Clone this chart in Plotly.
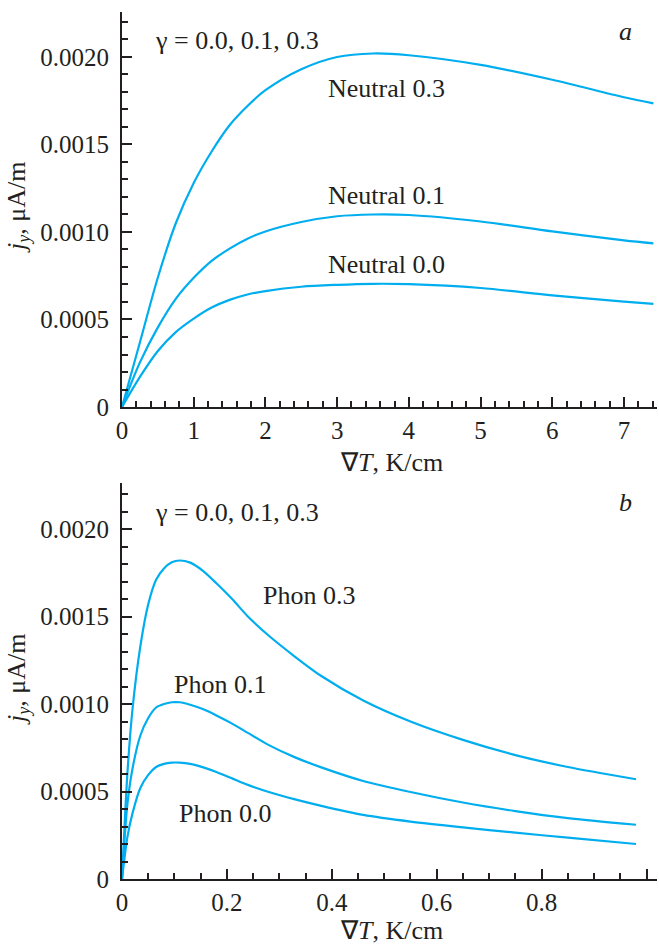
import plotly.graph_objects as go

# ---------------------------------------------------------------------------
# (a) neutral-atom contribution, x = grad T in K/cm, y = j_y in uA/m
# ---------------------------------------------------------------------------
neutral_x = [0, 0.25, 0.5, 0.75, 1.0, 1.25, 1.5, 1.75, 2.0, 2.5, 3.0, 3.5, 4.0, 5.0, 6.0, 7.0, 7.41]
neutral_03 = [0, 0.00037, 0.00074, 0.00105, 0.00128, 0.00146, 0.00161, 0.00172, 0.00181,
              0.00193, 0.002, 0.00202, 0.00201, 0.001955, 0.00187, 0.00177, 0.001735]
neutral_01 = [0, 0.000255, 0.000455, 0.000618, 0.000738, 0.000835, 0.000905, 0.000962, 0.001003,
              0.001057, 0.00109, 0.0011, 0.001097, 0.00106, 0.001003, 0.000952, 0.000935]
neutral_00 = [0, 0.000172, 0.00032, 0.000428, 0.000505, 0.000568, 0.000612, 0.000643, 0.000662,
              0.000687, 0.000698, 0.000704, 0.000702, 0.00068, 0.000638, 0.000602, 0.000589]

# (b) phonon contribution
phon_x = [0, 0.01, 0.02, 0.035, 0.05, 0.065, 0.08, 0.095, 0.11, 0.13, 0.155, 0.18, 0.21, 0.24,
          0.28, 0.33, 0.38, 0.46, 0.55, 0.65, 0.75, 0.85, 0.98]
phon_03 = [0, 0.00059, 0.00097, 0.00133, 0.00157, 0.00171, 0.001775, 0.00181, 0.00182, 0.001808,
           0.00176, 0.00169, 0.0016, 0.0015, 0.00139, 0.00127, 0.00116, 0.00102, 0.0009, 0.000795,
           0.000708, 0.00064, 0.00057]
phon_01 = [0, 0.00042, 0.00063, 0.00082, 0.00092, 0.00098, 0.001, 0.00101, 0.00101, 0.000996,
           0.00097, 0.000935, 0.000888, 0.000835, 0.000765, 0.000695, 0.000638, 0.00056, 0.000497,
           0.000437, 0.000388, 0.000348, 0.00031]
phon_00 = [0, 0.000235, 0.000375, 0.00052, 0.000595, 0.00064, 0.000658, 0.000665, 0.000665,
           0.000658, 0.000638, 0.000612, 0.000575, 0.000538, 0.000497, 0.000455, 0.000418,
           0.000366, 0.000328, 0.000295, 0.000265, 0.000236, 0.0002]

y_tickvals = [0, 0.0005, 0.0010, 0.0015, 0.0020]
y_ticktext = ['0', '0.0005', '0.0010', '0.0015', '0.0020']
xa_tickvals = [0, 1, 2, 3, 4, 5, 6, 7]
xb_tickvals = [0, 0.2, 0.4, 0.6, 0.8, 1.0]
xb_ticktext = ['0', '0.2', '0.4', '0.6', '0.8', '1.0']

labels_a = ['Neutral 0.3', 'Neutral 0.1', 'Neutral 0.0']
labels_b = ['Phon 0.3', 'Phon 0.1', 'Phon 0.0']

FONT = 'Liberation Serif'
INK = '#231f20'
CYAN = '#00aeef'

fig = go.Figure()

for ys in (neutral_03, neutral_01, neutral_00):
    fig.add_scatter(x=neutral_x, y=ys, mode='lines', xaxis='x', yaxis='y',
                    line=dict(color=CYAN, width=2.2, shape='spline', smoothing=0.9),
                    showlegend=False, hoverinfo='skip')
for ys in (phon_03, phon_01, phon_00):
    fig.add_scatter(x=phon_x, y=ys, mode='lines', xaxis='x2', yaxis='y2',
                    line=dict(color=CYAN, width=2.2, shape='spline', smoothing=0.7),
                    showlegend=False, hoverinfo='skip')

axis_common = dict(showline=True, linecolor=INK, linewidth=2, ticks='inside', ticklen=10,
                   tickwidth=1.5, tickcolor=INK, showgrid=False, zeroline=False,
                   tickfont=dict(family=FONT, size=25, color=INK), automargin=False)

x_dom = [122 / 659, 657 / 659]
fig.update_layout(
    width=659, height=945,
    paper_bgcolor='white', plot_bgcolor='white',
    margin=dict(l=0, r=0, t=0, b=0),
    font=dict(family=FONT, color=INK),
    xaxis=dict(axis_common, domain=x_dom, anchor='y', range=[0, 7.46],
               tickmode='array', tickvals=xa_tickvals,
               minor=dict(ticks='inside', dtick=0.2, tick0=0, ticklen=6, tickcolor=INK, tickwidth=1.5)),
    yaxis=dict(axis_common, domain=[1 - 407 / 945, 1 - 12 / 945], anchor='x', range=[0, 0.002257],
               tickmode='array', tickvals=y_tickvals, ticktext=y_ticktext, ticklabelstandoff=6,
               minor=dict(ticks='inside', dtick=0.0001, tick0=0, ticklen=6, tickcolor=INK, tickwidth=1.5)),
    xaxis2=dict(axis_common, domain=x_dom, anchor='y2', range=[0, 1.02],
                tickmode='array', tickvals=xb_tickvals, ticktext=xb_ticktext,
                minor=dict(ticks='inside', dtick=0.05, tick0=0, ticklen=6, tickcolor=INK, tickwidth=1.5)),
    yaxis2=dict(axis_common, domain=[1 - 879 / 945, 1 - 483 / 945], anchor='x2', range=[0, 0.002263],
                tickmode='array', tickvals=y_tickvals, ticktext=y_ticktext, ticklabelstandoff=6,
                minor=dict(ticks='inside', dtick=0.0001, tick0=0, ticklen=6, tickcolor=INK, tickwidth=1.5)),
)

def note(text, x, y, size=26, xanchor='left', angle=0):
    fig.add_annotation(text=text, x=x, y=y, xref='paper', yref='paper', showarrow=False,
                       xanchor=xanchor, yanchor='middle', textangle=angle,
                       font=dict(family=FONT, size=size, color=INK))

# panel (a)
note('γ = 0.0, 0.1, 0.3', 153 / 659, 1 - 40 / 945)
note('<i>a</i>', 625 / 659, 1 - 32 / 945, xanchor='center')
for lab, py in zip(labels_a, (88, 196, 264)):
    note(lab, 326 / 659, 1 - py / 945)
note('∇<i>T</i>, K/cm', 391 / 659, 1 - 462 / 945, xanchor='center')
note('<i>j<sub>y</sub></i>, μA/m', 18 / 659, 1 - 208 / 945, xanchor='center', angle=-90)

# panel (b)
note('γ = 0.0, 0.1, 0.3', 153 / 659, 1 - 512 / 945)
note('<i>b</i>', 625 / 659, 1 - 503 / 945, xanchor='center')
for lab, px, py in zip(labels_b, (261, 172, 177), (595, 684, 813)):
    note(lab, px / 659, 1 - py / 945)
note('∇<i>T</i>, K/cm', 391 / 659, 1 - 930 / 945, xanchor='center')
note('<i>j<sub>y</sub></i>, μA/m', 18 / 659, 1 - 680 / 945, xanchor='center', angle=-90)

# drop the default 8px body margin so the figure sits at the page corner
fig.write_html('out.html', config={'displayModeBar': False},
               post_script="document.body.style.margin='0';")
